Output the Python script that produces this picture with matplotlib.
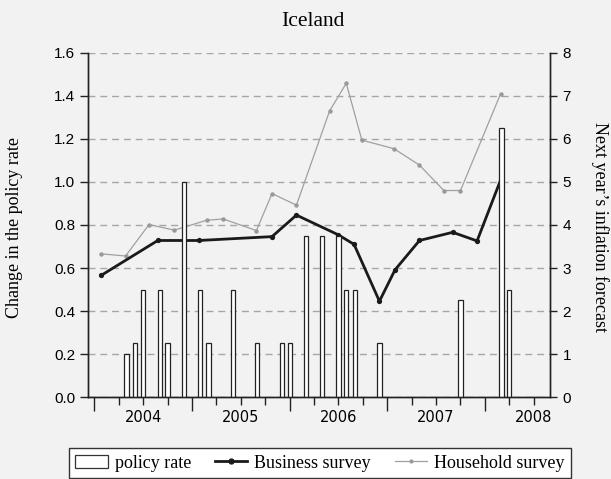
import matplotlib
matplotlib.use('Agg')
import matplotlib.pyplot as plt
from matplotlib.patches import Patch
from matplotlib.lines import Line2D

# policy rate changes (percentage points), dated as decimal years
rate_dates = [2004.33, 2004.42, 2004.5, 2004.67, 2004.75, 2004.92, 2005.08, 2005.17,
              2005.42, 2005.67, 2005.92, 2006.0, 2006.17, 2006.33, 2006.5, 2006.58,
              2006.67, 2006.92, 2007.75, 2008.17, 2008.25]
rate_changes = [0.2, 0.25, 0.5, 0.5, 0.25, 1.0, 0.5, 0.25, 0.5, 0.25, 0.25, 0.25,
                0.75, 0.75, 0.75, 0.5, 0.5, 0.25, 0.45, 1.25, 0.5]

# next year's inflation forecast (right axis)
business_dates = [2004.07, 2004.65, 2005.07, 2005.82, 2006.07, 2006.50, 2006.66,
                  2006.92, 2007.08, 2007.33, 2007.67, 2007.92, 2008.16]
business_values = [2.83, 3.64, 3.64, 3.73, 4.23, 3.77, 3.55, 2.23, 2.96, 3.64,
                   3.83, 3.63, 5.04]

household_dates = [2004.07, 2004.32, 2004.56, 2004.82, 2005.15, 2005.32, 2005.66,
                   2005.82, 2006.07, 2006.41, 2006.58, 2006.74, 2007.07, 2007.33,
                   2007.58, 2007.75, 2008.16]
household_values = [3.33, 3.28, 4.01, 3.88, 4.11, 4.14, 3.87, 4.73, 4.46, 6.65,
                    7.29, 5.97, 5.77, 5.39, 4.80, 4.80, 7.04]

years = [2004, 2005, 2006, 2007, 2008]
left_ticks = [0.0, 0.2, 0.4, 0.6, 0.8, 1.0, 1.2, 1.4, 1.6]
right_ticks = [0, 1, 2, 3, 4, 5, 6, 7, 8]

bg = '#f2f2f2'
serif = 'Liberation Serif'

fig = plt.figure(figsize=(6.11, 4.79), dpi=100)
fig.patch.set_facecolor(bg)
ax = fig.add_axes([0.1435, 0.1706, 0.7567, 0.7194])
ax2 = ax.twinx()

# bars need to sit on top of the lines
ax.set_zorder(ax2.get_zorder() + 1)
ax.patch.set_visible(False)
ax2.patch.set_facecolor(bg)

ax2.set_axisbelow(True)
ax2.grid(axis='y', linestyle=(0, (5, 3.5)), color='#a6a6a6', linewidth=1.0)

ax2.plot(household_dates, household_values, color='#a0a0a0', linewidth=0.9,
         marker='o', markersize=3.2, markerfacecolor='#999999', markeredgewidth=0)
ax2.plot(business_dates, business_values, color='#1a1a1a', linewidth=2.0,
         marker='o', markersize=3.8, markerfacecolor='#1a1a1a', markeredgewidth=0)

ax.bar(rate_dates, rate_changes, width=0.043, color='white', edgecolor='#222222',
       linewidth=0.9)

ax.set_xlim(2003.932, 2008.667)
ax.set_ylim(0, 1.6)
ax2.set_ylim(0, 8)

# x axis: long ticks at year boundaries, short ones at quarters, year label mid-year
quarters = [y + q for y in years for q in (0.25, 0.5, 0.75) if y + q < 2008.667]
ax.set_xticks(quarters)
ax.set_xticklabels([str(int(q)) if abs(q % 1 - 0.5) < 1e-6 else '' for q in quarters],
                   fontfamily='DejaVu Sans', fontsize=10.5)
ax.set_xticks(years, minor=True)
ax.tick_params(axis='x', which='major', length=6, width=1, pad=3, color='#222222')
ax.tick_params(axis='x', which='minor', length=10, width=1, color='#222222')

ax.set_yticks(left_ticks)
ax.set_yticklabels(['%.1f' % v for v in left_ticks], fontfamily='Liberation Sans', fontsize=11)
ax.tick_params(axis='y', length=6, width=1, pad=3, color='#222222')
ax2.set_yticks(right_ticks)
ax2.set_yticklabels([str(v) for v in right_ticks], fontfamily='Liberation Sans', fontsize=11)
ax2.tick_params(axis='y', length=5, width=1, pad=4, color='#222222')

for a in (ax, ax2):
    a.spines['top'].set_visible(False)
    for s in ('left', 'right', 'bottom'):
        a.spines[s].set_color('#222222')
        a.spines[s].set_linewidth(1.0)

fig.text(313 / 611, 1 - 26.5 / 479, 'Iceland', ha='center', va='baseline',
         fontfamily=serif, fontsize=15.5)
fig.text(15 / 611, 1 - 228 / 479, 'Change in the policy rate', rotation=90,
         ha='center', va='center', fontfamily=serif, fontsize=13)
fig.text(600 / 611, 1 - 227 / 479, 'Next year\u2019s inflation forecast', rotation=270,
         ha='center', va='center', fontfamily=serif, fontsize=13)

handles = [
    Patch(facecolor='white', edgecolor='#333333', linewidth=0.9),
    Line2D([], [], color='#1a1a1a', linewidth=2.0, marker='o', markersize=3.5),
    Line2D([], [], color='#a0a0a0', linewidth=0.9, marker='o', markersize=3,
           markerfacecolor='#999999', markeredgewidth=0),
]
leg = fig.legend(handles, ['policy rate', 'Business survey', 'Household survey'],
                 loc='center', bbox_to_anchor=(320 / 611, 1 - 463 / 479), ncol=3,
                 prop={'family': serif, 'size': 13}, frameon=True, fancybox=False,
                 handlelength=1.8, handletextpad=0.4, columnspacing=1.3,
                 borderpad=0.35, borderaxespad=0)
leg.get_frame().set_edgecolor('#333333')
leg.get_frame().set_facecolor('white')
leg.get_frame().set_alpha(1)
leg.get_frame().set_linewidth(1.0)

fig.savefig('out.png', dpi=100, facecolor=bg)
